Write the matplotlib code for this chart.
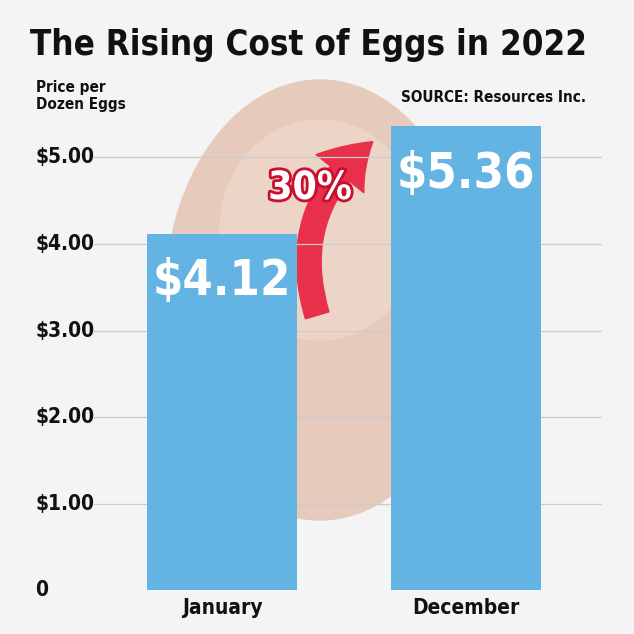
import matplotlib
matplotlib.use("Agg")
import matplotlib.pyplot as plt
import matplotlib.patheffects as pe
from matplotlib.patches import Ellipse, FancyArrowPatch

months = ["January", "December"]
prices = [4.12, 5.36]
price_labels = ["$4.12", "$5.36"]
tick_vals = [0, 1, 2, 3, 4, 5]
tick_labels = ["0", "$1.00", "$2.00", "$3.00", "$4.00", "$5.00"]
change_label = "30%"

FONT = dict(family="DejaVu Sans", stretch="condensed", weight="bold")

fig = plt.figure(figsize=(6.34, 6.34), dpi=100)
fig.patch.set_facecolor("#f4f4f4")
bg = fig.add_axes([0, 0, 1, 1]); bg.set_xlim(0, 634); bg.set_ylim(634, 0); bg.axis("off")
bg.add_patch(Ellipse((320, 300), 310, 440, color="#e6cbbd", zorder=0))
bg.add_patch(Ellipse((320, 230), 200, 220, color="#ecd4c7", zorder=0))

ax = fig.add_axes([0.05, 0.069, 0.90, 0.751])
ax.patch.set_alpha(0)
ax.set_xlim(-0.78, 1.56)
ax.set_ylim(0, 5.5)
for v in tick_vals[1:]:
    ax.axhline(v, xmin=0.11, color="#cccccc", lw=0.9, zorder=1)
ax.bar(range(len(prices)), prices, width=0.617, color="#63b3e3", zorder=2, clip_on=False)
for i, (p, lab) in enumerate(zip(prices, price_labels)):
    ax.text(i, p - 0.55, lab, ha="center", va="center", color="white", fontsize=35, zorder=3, **FONT)
for v, lab in zip(tick_vals, tick_labels):
    ax.text(-0.765, v, lab, ha="left", va="center", fontsize=15, color="#111", **FONT)
for i, m in enumerate(months):
    ax.text(i, -0.2, m, ha="center", va="center", fontsize=15, color="#111", **FONT)
ax.axis("off")

arr = FancyArrowPatch((318, 318), (375, 140), transform=bg.transData, connectionstyle="arc3,rad=-0.35",
                      arrowstyle="simple,head_width=2.0,head_length=1.5,tail_width=0.8",
                      mutation_scale=22, color="#e8304a", zorder=4)
bg.add_artist(arr)
bg.text(310, 188, change_label, ha="center", va="center", fontsize=28, color="white", zorder=5,
        path_effects=[pe.withStroke(linewidth=4, foreground="#c8102e")], **FONT)

bg.text(308, 45, "The Rising Cost of Eggs in 2022", ha="center", va="center", fontsize=25, color="#111", **FONT)
bg.text(36, 96, "Price per\nDozen Eggs", ha="left", va="center", fontsize=11, color="#111", linespacing=1.1, **FONT)
bg.text(586, 98, "SOURCE: Resources Inc.", ha="right", va="center", fontsize=11, color="#111", **FONT)

fig.savefig("out.png", dpi=100, facecolor=fig.get_facecolor())
